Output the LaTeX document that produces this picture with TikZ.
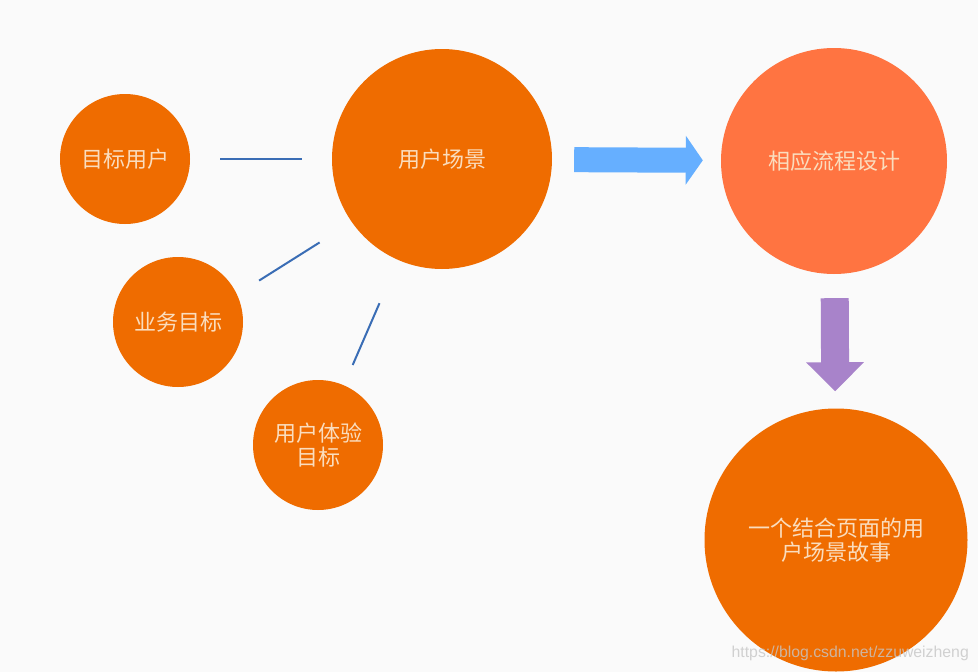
\documentclass[tikz,border=0pt]{standalone}
\usepackage{fontspec}
\setmainfont{Noto Sans CJK SC}
\newfontfamily\urlfont{Liberation Sans}
\usetikzlibrary{arrows.meta}
\definecolor{deeporange}{HTML}{EF6C00}
\definecolor{coral}{HTML}{FF7441}
\definecolor{cream}{HTML}{FADDBE}
\definecolor{skyblue}{HTML}{66AFFF}
\definecolor{lilac}{HTML}{A883CA}
\definecolor{steel}{HTML}{3A6DB5}
\definecolor{paper}{HTML}{FAFAFA}

\begin{document}
\begin{tikzpicture}[x=1pt, y=-1pt,
    bubble/.style={circle, fill=deeporange, text=cream, inner sep=0pt, align=center,
        font=\fontsize{22}{23.5}\selectfont},
    link/.style={draw=steel, line width=2pt},
    bigarrow/.style={line width=25pt, -{Triangle[length=17pt, width=48pt]}}]
    \fill[paper] (0,0) rectangle (978,672);
    \useasboundingbox (0,0) rectangle (978,672);

    % circles
    \node[bubble, minimum size=130pt] (target) at (125,159) {目标用户};
    \node[bubble, minimum size=220pt] (scene) at (442,159) {用户场景};
    \node[bubble, minimum size=226pt, fill=coral] (flow) at (834,161) {相应流程设计};
    \node[bubble, minimum size=130pt] (business) at (178,322) {业务目标};
    \node[bubble, minimum size=130pt] (experience) at (318,445) {用户体验\\目标};
    \node[bubble, minimum size=263pt] (story) at (836,540) {一个结合页面的用\\户场景故事};

    % thin links to the scene
    \draw[link, shorten <=30pt, shorten >=30pt] (target) -- (scene);
    \draw[link, shorten <=26pt, shorten >=38pt] (business.25) -- (scene.215.5);
    \draw[link, shorten <=22pt, shorten >=47pt] (experience) -- (scene);

    % block arrows
    \draw[bigarrow, skyblue, shorten <=22pt, shorten >=18pt] (scene) -- (flow);
    \draw[bigarrow, lilac, line width=28pt, -{Triangle[length=29pt, width=56pt]},
        shorten <=24pt, shorten >=17pt] (flow) -- (story);

    \node[font=\urlfont\fontsize{15.8}{18}\selectfont, text=gray!45, opacity=0.8,
        anchor=east, inner sep=0pt] (mark) at (969,653) {https://blog.csdn.net/zzuweizheng};
\end{tikzpicture}
\end{document}
